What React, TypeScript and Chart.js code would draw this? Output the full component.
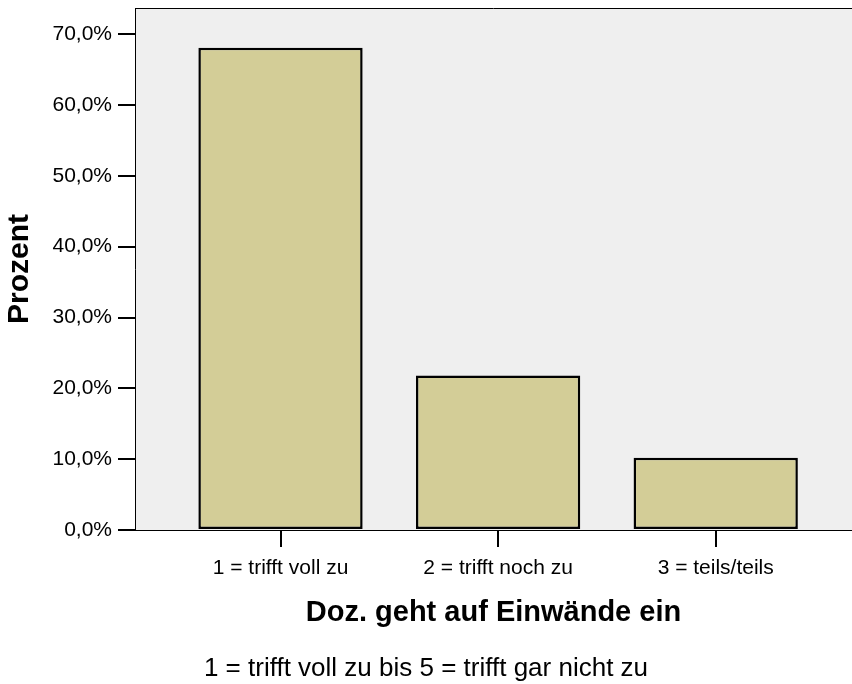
import React, { useEffect, useRef } from "react";
import { Chart, registerables } from "chart.js";

Chart.register(...registerables);

const categories = ["1 = trifft voll zu", "2 = trifft noch zu", "3 = teils/teils"];
const categoryPositions = [1, 2, 3];
const percentValues = [68.1, 21.8, 10.2];
const yTickValues = [0, 10, 20, 30, 40, 50, 60, 70];
const xAxisTitle = "Doz. geht auf Einwände ein";
const yAxisTitle = "Prozent";
const footnote = "1 = trifft voll zu bis 5 = trifft gar nicht zu";

const FONT = "'Liberation Sans', Arial, Helvetica, sans-serif";

const plotBackground = {
  id: "plotBackground",
  beforeDraw(chart: any) {
    const { ctx, chartArea } = chart;
    ctx.save();
    ctx.fillStyle = "#efefef";
    ctx.fillRect(chartArea.left, chartArea.top, chartArea.right - chartArea.left, chartArea.bottom - chartArea.top);
    ctx.restore();
  },
  afterDraw(chart: any) {
    const { ctx, chartArea } = chart;
    ctx.save();
    ctx.strokeStyle = "#000";
    ctx.lineWidth = 1;
    ctx.beginPath();
    ctx.moveTo(chartArea.left, Math.round(chartArea.top) + 0.5);
    ctx.lineTo(chartArea.right, Math.round(chartArea.top) + 0.5);
    ctx.stroke();
    ctx.restore();
  },
};

export default function App() {
  const canvasRef = useRef<HTMLCanvasElement | null>(null);

  useEffect(() => {
    if (!canvasRef.current) return;
    Chart.defaults.font.family = FONT;
    Chart.defaults.color = "#000";
    const chart = new Chart(canvasRef.current, {
      type: "bar",
      data: {
        datasets: [
          {
            data: categoryPositions.map((x, i) => ({ x, y: percentValues[i] })),
            backgroundColor: "#d3cd97",
            borderColor: "#000",
            borderWidth: 2.5,
            borderSkipped: false,
            barPercentage: 0.755,
            categoryPercentage: 1,
          },
        ],
      },
      options: {
        animation: false,
        responsive: false,
        devicePixelRatio: 1,
        layout: { padding: { top: 8, left: 0, right: 0, bottom: 0 } },
        plugins: {
          legend: { display: false },
          tooltip: { enabled: false },
          title: { display: false },
          subtitle: {
            display: true,
            text: footnote,
            position: "bottom",
            color: "#000",
            font: { size: 26, family: FONT, weight: "normal" },
            padding: { top: 4, bottom: 0 },
          },
        },
        scales: {
          x: {
            type: "linear",
            offset: false,
            min: 0.3313,
            max: 3.6263,
            afterBuildTicks: (scale: any) => {
              scale.ticks = categoryPositions.map((v) => ({ value: v }));
            },
            afterFit: (scale: any) => {
              scale.height = 118.8;
              scale.paddingLeft = 0;
              scale.paddingRight = 0;
            },
            ticks: {
              autoSkip: false,
              maxRotation: 0,
              padding: 9,
              color: "#000",
              font: { size: 21, family: FONT },
              callback: (value: any) => {
                const idx = categoryPositions.indexOf(Number(value));
                return idx >= 0 ? categories[idx] : "";
              },
            },
            grid: {
              display: true,
              offset: false,
              drawOnChartArea: false,
              drawTicks: true,
              tickLength: 17,
              lineWidth: 2,
              tickWidth: 2,
              color: "#000",
              tickColor: "#000",
            },
            border: { display: true, color: "#000", width: 1 },
            title: {
              display: true,
              text: xAxisTitle,
              color: "#000",
              font: { size: 29, weight: "bold", family: FONT },
              padding: { top: 0, bottom: 18.4 },
            },
          },
          y: {
            type: "linear",
            min: 0,
            max: 73.7,
            afterBuildTicks: (scale: any) => {
              scale.ticks = yTickValues.map((v) => ({ value: v }));
            },
            afterFit: (scale: any) => {
              scale.width = 135;
              scale.paddingTop = 0;
              scale.paddingBottom = 0;
            },
            ticks: {
              padding: 6,
              color: "#000",
              font: { size: 21, family: FONT },
              callback: (value: any) => Number(value).toFixed(1).replace(".", ",") + "%",
            },
            grid: {
              display: true,
              drawOnChartArea: false,
              drawTicks: true,
              tickLength: 17,
              lineWidth: 2,
              tickWidth: 2,
              color: "#000",
              tickColor: "#000",
            },
            border: { display: true, color: "#000", width: 1 },
            title: {
              display: true,
              text: yAxisTitle,
              color: "#000",
              font: { size: 30, weight: "bold", family: FONT },
              padding: { top: 2, bottom: 0 },
            },
          },
        },
      },
      plugins: [plotBackground],
    } as any);
    return () => chart.destroy();
  }, []);

  return (
    <div style={{ position: "fixed", left: 0, top: 0, width: 852, height: 684, background: "#fff" }}>
      <canvas ref={canvasRef} width={852} height={684} style={{ width: 852, height: 684, display: "block" }} />
    </div>
  );
}
